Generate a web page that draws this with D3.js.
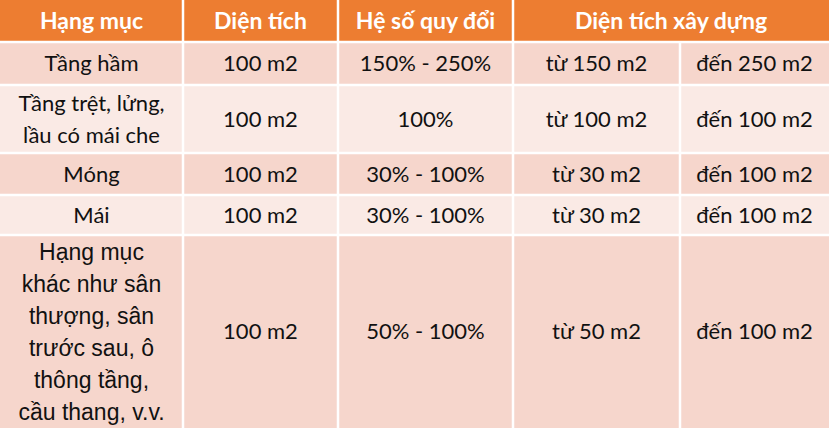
<!DOCTYPE html><html><head><meta charset="utf-8"><script src="https://cdn.jsdelivr.net/npm/d3@7"></script>
<style>body{margin:0;background:#fff}</style></head><body><svg id="c" width="829" height="428"></svg><script>
const headers=["Hạng mục","Diện tích","Hệ số quy đổi","Diện tích xây dựng"];
const categories=[["Tầng hầm"],["Tầng trệt, lửng,","lầu có mái che"],["Móng"],["Mái"],["Hạng mục","khác như sân","thượng, sân","trước sau, ô","thông tầng,","cầu thang, v.v."]];
const areas=["100 m2","100 m2","100 m2","100 m2","100 m2"];
const factors=["150% - 250%","100%","30% - 100%","30% - 100%","50% - 100%"];
const fromVals=["từ 150 m2","từ 100 m2","từ 30 m2","từ 30 m2","từ 50 m2"];
const toVals=["đến 250 m2","đến 100 m2","đến 100 m2","đến 100 m2","đến 100 m2"];
const colEdges=[0,183,338,513,680,829];
const rowEdges=[0,42,85,153,195,235,428];
const svg=d3.select("#c");
const font="Lato, 'Open Sans', sans-serif";
svg.append("rect").attr("x",0).attr("y",0).attr("width",829).attr("height",rowEdges[1]).attr("fill","#ED7D31");
const hx=[[0,1],[1,2],[2,3],[3,5]];
headers.forEach((h,i)=>{svg.append("text").attr("x",(colEdges[hx[i][0]]+colEdges[hx[i][1]])/2).attr("y",rowEdges[1]/2).attr("dy","0.36em").attr("text-anchor","middle").attr("fill","#fff").attr("font-weight","bold").attr("font-size",23).attr("font-family",font).text(h);});
categories.forEach((c,r)=>{
  const y0=rowEdges[r+1],y1=rowEdges[r+2],cy=(y0+y1)/2;
  svg.append("rect").attr("x",0).attr("y",y0).attr("width",829).attr("height",y1-y0).attr("fill",r%2==0?"#F6D6CC":"#FAEAE5");
  const cells=[c,[areas[r]],[factors[r]],[fromVals[r]],[toVals[r]]];
  cells.forEach((lines,ci)=>{
    const x=(colEdges[ci]+colEdges[ci+1])/2;
    const last=r==4&&ci==0;
    const lh=32;
    const fs=last?23:22;
    const t=svg.append("text").attr("text-anchor","middle").attr("font-size",fs).attr("fill","#111").attr("font-family",last?"'Liberation Sans', Arial, sans-serif":font);
    lines.forEach((l,k)=>t.append("tspan").attr("x",x).attr("y",cy+(k-(lines.length-1)/2)*lh).attr("dy","0.36em").text(l));
  });
});
rowEdges.slice(1,-1).forEach(y=>svg.append("line").attr("x1",0).attr("x2",829).attr("y1",y).attr("y2",y).attr("stroke","#fff").attr("stroke-width",2.5));
colEdges.slice(1,-1).forEach((x,i)=>svg.append("line").attr("x1",x).attr("x2",x).attr("y1",i==3?rowEdges[1]:0).attr("y2",428).attr("stroke","#fff").attr("stroke-width",2.5));
</script></body></html>
